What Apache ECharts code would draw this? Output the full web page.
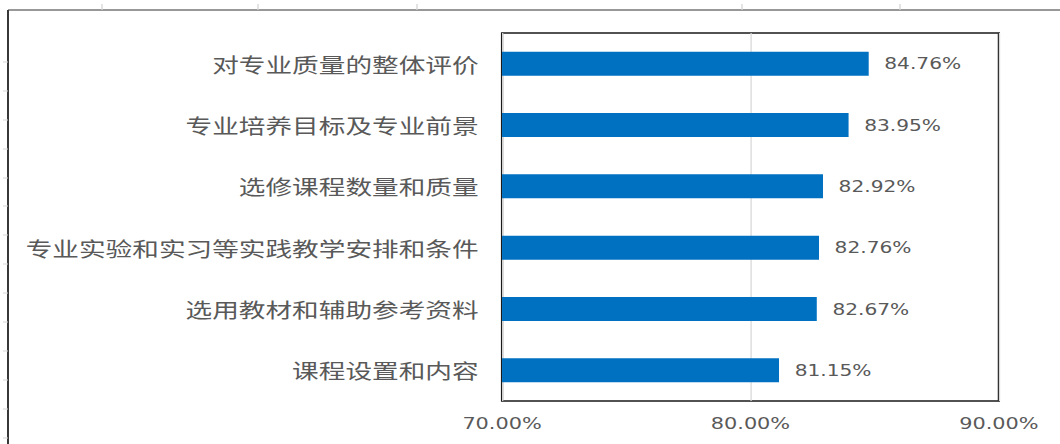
<!DOCTYPE html>
<html><head><meta charset="utf-8">
<script src="https://cdn.jsdelivr.net/npm/echarts@6.0.0/dist/echarts.min.js"></script>
<style>
html,body{margin:0;padding:0;background:#fff;overflow:hidden;width:1060px;height:444px}
#wrap{width:1060px;height:444px;overflow:hidden;position:relative}
#chart{width:815px;height:444px;transform:scaleX(1.30061);transform-origin:0 0}
</style></head>
<body><div id="wrap"><div id="chart"></div></div>
<script>
const categories = ['对专业质量的整体评价', '专业培养目标及专业前景', '选修课程数量和质量', '专业实验和实习等实践教学安排和条件', '选用教材和辅助参考资料', '课程设置和内容'];
const values = [84.76, 83.95, 82.92, 82.76, 82.67, 81.15];
const xTicks = [70, 80, 90];

const S = 1060 / 815;
const chart = echarts.init(document.getElementById('chart'), null, { renderer: 'svg' });

const deco = [];
// outer frame fragments
deco.push({ type: 'line', shape: { x1: 8 / S, y1: 10, x2: 815, y2: 10 }, style: { stroke: '#333', lineWidth: 1.2 } });
deco.push({ type: 'line', shape: { x1: 8 / S, y1: 10, x2: 8 / S, y2: 444 }, style: { stroke: '#333', lineWidth: 1.5 } });
[102, 258, 417, 742, 900].forEach(x => deco.push({ type: 'line', shape: { x1: x / S, y1: 4, x2: x / S, y2: 10 }, style: { stroke: '#d4d4d4', lineWidth: 1 } }));
[62, 91, 120, 149, 178, 206, 235, 264, 293, 322, 351, 380, 409, 438].forEach(y => deco.push({ type: 'line', shape: { x1: 3 / S, y1: y, x2: 8 / S, y2: y }, style: { stroke: '#d4d4d4', lineWidth: 1 } }));

chart.setOption({
  animation: false,
  backgroundColor: '#fff',
  graphic: deco,
  grid: { left: 386, right: 47, top: 33, bottom: 43, show: true, borderColor: '#1a1a1a', borderWidth: 1.7, backgroundColor: 'transparent' },
  xAxis: {
    type: 'value', min: xTicks[0], max: xTicks[xTicks.length - 1], interval: xTicks[1] - xTicks[0],
    axisLine: { show: false }, axisTick: { show: false },
    splitLine: { show: true, lineStyle: { color: '#d9d9d9', width: 1 } },
    axisLabel: { formatter: v => v.toFixed(2) + '%', fontSize: 16, color: '#595959', fontFamily: 'DejaVu Sans', margin: 14, showMinLabel: true, showMaxLabel: true }
  },
  yAxis: {
    type: 'category', data: categories, inverse: true,
    axisLine: { show: false }, axisTick: { show: false },
    axisLabel: { fontSize: 20.5, color: '#595959', fontFamily: 'Noto Sans CJK SC', margin: 18 }
  },
  series: [{
    type: 'bar', data: values, barWidth: 24,
    itemStyle: { color: '#0070C0' },
    label: { show: true, position: 'right', distance: 12, formatter: p => p.value.toFixed(2) + '%', fontSize: 15.5, color: '#595959', fontFamily: 'DejaVu Sans' }
  }]
});
</script></body></html>
